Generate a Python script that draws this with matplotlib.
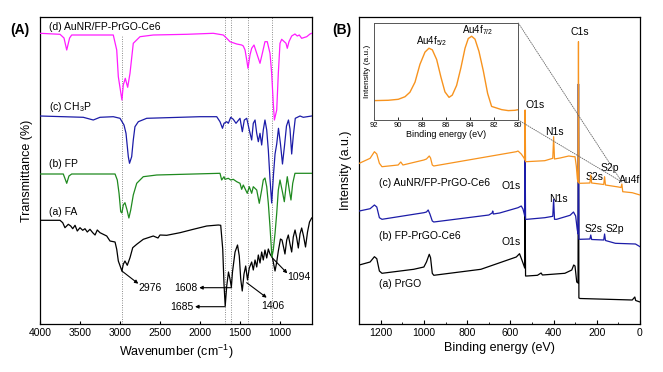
import matplotlib
matplotlib.use("Agg")
import matplotlib.pyplot as plt
from matplotlib.patches import ConnectionPatch
from matplotlib.ticker import MultipleLocator

plt.rcParams['font.family'] = ['Liberation Sans', 'DejaVu Sans']
plt.rcParams['mathtext.default'] = 'regular'

# ---------------- Panel A : FTIR (arbitrary transmittance units) ----------------
fa_wn = [4000, 3750, 3716, 3688, 3646, 3616, 3591, 3562, 3534, 3500, 3466, 3438, 3409, 3375,
         3341, 3312, 3284, 3250, 3166, 3125, 3062, 3041, 3021, 2976, 2959, 2938, 2909, 2875,
         2841, 2791, 2709, 2584, 2525, 2500, 2416, 2250, 2084, 1916, 1771, 1741, 1716, 1700,
         1685, 1666, 1644, 1625, 1608, 1594, 1562, 1531, 1509, 1491, 1472, 1450, 1429, 1406,
         1384, 1354, 1334, 1312, 1291, 1271, 1250, 1229, 1209, 1188, 1166, 1146, 1125, 1094,
         1062, 1041, 1021, 994, 975, 956, 938, 916, 896, 875, 854, 834, 812, 791, 771, 750,
         729, 706, 681, 656, 631, 604]
fa_t = [103.7, 103.7, 101.3, 96.3, 99.7, 98, 95.3, 98.7, 93, 96.3, 93.7, 95.3, 92, 94.7,
        91.3, 89, 94, 91.3, 88, 83, 82, 74.7, 63, 53, 59.7, 63, 58.7, 66.3,
        76.3, 79.7, 84.7, 88, 86, 89, 88.7, 91.3, 94.7, 98, 99, 98.7, 75, 40,
        18, 38, 52, 45, 37, 52, 72, 79, 68, 45, 33, 50, 58, 44,
        56, 62, 54, 64, 57, 69, 61, 72, 64, 74, 66, 75, 70, 66,
        53, 62, 73, 85, 84, 77, 70, 84, 89, 80, 72, 87, 94, 86, 76, 90,
        96, 88, 77, 92, 102, 106]

fp_wn = [4000, 3709, 3666, 3638, 3604, 3062, 3034, 3012, 2991, 2976, 2959, 2938, 2912, 2889,
         2866, 2834, 2791, 2709, 2541, 1750, 1729, 1700, 1688, 1646, 1616, 1584, 1541, 1500,
         1479, 1459, 1429, 1409, 1384, 1354, 1334, 1291, 1259, 1229, 1209, 1188, 1166, 1146,
         1125, 1101, 1084, 1062, 1041, 1021, 1000, 966, 946, 925, 909, 884, 863, 841, 813,
         625, 600]
fp_t = [150, 150, 140.7, 148, 150, 150, 144, 130.7, 112.3, 111, 119, 121.3, 114, 106,
        114, 129, 140.7, 147.3, 149, 150.7, 144, 147.3, 144.7, 145.7, 144, 144.7, 142.3, 140.7,
        134.7, 139, 134, 130.7, 137.3, 130.7, 137.3, 134, 120.7, 134, 144, 146, 137.3, 120.7,
        97.3, 67, 74, 90.7, 110.7, 134, 144, 130.7, 122.3, 137.3, 147.3, 134, 124, 140.7, 150.7,
        150.7, 150.7]

ch3p_wn = [4000, 3459, 3334, 3250, 3084, 3000, 2950, 2925, 2896, 2881, 2854, 2834, 2813, 2771,
           2666, 2000, 1791, 1750, 1719, 1700, 1666, 1646, 1616, 1584, 1550, 1500, 1471, 1446,
           1416, 1384, 1354, 1334, 1312, 1291, 1271, 1250, 1229, 1209, 1188, 1166, 1146, 1125,
           1104, 1081, 1062, 1041, 1019, 994, 969, 944, 919, 894, 875, 854, 834, 809, 750,
           709, 604]
ch3p_t = [208, 206.7, 204, 206.7, 207.3, 205.7, 199, 190.7, 167.3, 160.7, 167.3, 184, 197.3, 202.3,
          205.7, 207.3, 207.3, 202.3, 195.7, 200.7, 202.3, 200.7, 206.7, 204.7, 200.7, 205.7, 192.3, 204,
          205.7, 194, 184, 200.7, 204, 190.7, 182.3, 190.7, 179, 194, 204, 194, 174, 145,
          121, 150, 170, 180, 195.7, 180, 160, 178, 198, 204, 195, 170, 188, 205.7, 208,
          206.7, 208]

auc_wn = [4000, 3750, 3700, 3666, 3630, 3604, 3084, 3041, 3021, 2976, 2959, 2934, 2904, 2875,
          2834, 2750, 2584, 2166, 1834, 1709, 1666, 1625, 1541, 1479, 1459, 1437, 1416, 1400,
          1375, 1354, 1325, 1291, 1250, 1216, 1188, 1159, 1125, 1104, 1084, 1070, 1041, 1021,
          1000, 979, 925, 909, 888, 854, 813, 784, 759, 729, 666, 625, 604]
auc_t = [290.7, 289.7, 286, 274, 286, 289, 289, 274, 247.3, 224, 239, 245.7, 236.7, 250.7,
         280.7, 287.3, 289, 289.7, 290.7, 289, 285.7, 282.3, 280, 279, 278, 274, 264, 255.7,
         269, 275.7, 279, 270.7, 260.7, 272.3, 282.3, 282.3, 270.7, 250.7, 220.7, 204, 214, 250.7,
         280.7, 284.7, 280.7, 275.7, 282.3, 288, 290, 288, 289, 285.7, 287.3, 290, 290.7]

ftir_marks = [2976, 1685, 1608, 1406, 1094]

# ---------------- Panel B : XPS survey (arbitrary intensity units) ----------------
prgo_be = [1300, 1250, 1230, 1219, 1207, 1195, 1048, 1001, 989, 976, 970, 962, 955, 737,
           573, 558, 547, 537, 534, 532, 530, 524, 475, 458, 452, 348, 316, 307, 301, 293,
           287, 285, 283, 278, 36, 24, 20, 0]
prgo_i = [59, 62, 67.3, 65.3, 53, 50.7, 54.7, 57, 62, 69.7, 66.3, 50.7, 48.7, 54.7,
          67, 70.3, 64, 58, 56, 115, 48, 48, 48.7, 51, 49, 50.7, 54, 59, 58, 42,
          41, 240, 26, 25.5, 24, 27, 23.5, 22]

fpce6_be = [1300, 1250, 1230, 1219, 1207, 1195, 1001, 989, 981, 973, 962, 955, 700, 685, 682,
            679, 650, 565, 550, 542, 536, 534, 532, 530, 523, 441, 404, 400, 396, 386, 324,
            308, 298, 291, 287, 285, 283, 278, 232, 228, 224, 168, 164, 160, 114, 21, 0]
fpce6_i = [113, 115.3, 119, 117, 106.3, 104.7, 111.3, 112, 114, 110, 103, 102, 109, 111, 113,
           110, 111, 116.3, 118, 115, 110, 108, 170, 104.7, 104.7, 106.3, 107.7, 124.7, 104.7, 104.7, 108.7,
           112, 108, 95, 90, 240, 85, 84.7, 85, 89, 84.5, 84, 90, 83.5, 80.7, 80, 77.3]

au_be = [1300, 1250, 1230, 1219, 1207, 1195, 1120, 1108, 1098, 1001, 989, 976, 970, 962, 955,
         573, 565, 550, 537, 534, 532, 530, 528, 441, 404, 400, 396, 370, 330, 308, 301, 295,
         290, 287, 285, 283, 278, 232, 228, 224, 168, 164, 160, 100, 88, 84, 80, 36, 0]
au_i = [160.7, 165.7, 172.3, 170, 160.7, 157.3, 159, 162, 159, 164, 165, 168, 166, 159, 158,
        172.3, 173, 170, 166, 164, 214, 162.3, 162.3, 163.3, 165.7, 187.3, 165, 166, 168, 167.3, 167.3, 158,
        145, 142, 282.3, 141, 140.7, 141, 149, 141, 139.5, 147.3, 139, 137, 136.5, 140, 132.3, 131.3, 129]

# Inset: Au4f high resolution
au4f_be = [91.92, 90.81, 89.98, 89.42, 89.01, 88.59, 88.18, 87.76, 87.43, 87.15, 86.79, 86.43,
           86.10, 85.76, 85.49, 85.13, 84.77, 84.43, 84.16, 83.88, 83.60, 83.27, 82.91, 82.55,
           82.22, 81.80, 81.38, 80.83, 80.28, 80.00]
au4f_i = [60, 61, 64, 72, 86, 117, 172, 210, 222, 217, 187, 132, 87, 70, 77, 107, 162, 222,
          252, 259, 250, 212, 152, 82, 42, 37, 32, 29, 30, 32]

# ---------------- Colors ----------------
c_black = '#000000'
c_green = '#1F8A1F'
c_blue = '#1C1CA8'
c_pink = '#FF1CFF'
c_orange = '#F7931E'

fig = plt.figure(figsize=(6.63, 3.72), dpi=100)

W, H = 663.0, 372.0
def rect(x0, y0, x1, y1):
    return [x0 / W, 1 - y1 / H, (x1 - x0) / W, (y1 - y0) / H]

tick_fs = 7.5
lab_fs = 9

# ---------- Panel A ----------
axA = fig.add_axes(rect(40, 17, 312, 324))
axA.set_xlim(4000, 600)
axA.set_ylim(0, 307)
for w in ftir_marks:
    top = 289 / 307 if w == 2976 else 1.0
    axA.axvline(w, ymin=0, ymax=top, color='#666666', ls=(0, (1.0, 1.8)), lw=0.6, zorder=1)
lw = 0.9
axA.plot(fa_wn, fa_t, color=c_black, lw=lw, zorder=3)
axA.plot(fp_wn, fp_t, color=c_green, lw=lw, zorder=4)
axA.plot(ch3p_wn, ch3p_t, color=c_blue, lw=lw, zorder=3)
axA.plot(auc_wn, auc_t, color=c_pink, lw=lw, zorder=3)

txt_fs = 7.5
axA.text(3884, 297.3, '(d) AuNR/FP-PrGO-Ce6', fontsize=txt_fs, va='center', ha='left')
axA.text(3884, 216.7, '(c) CH$_3$P', fontsize=txt_fs, va='center', ha='left')
axA.text(3884, 160, '(b) FP', fontsize=txt_fs, va='center', ha='left')
axA.text(3884, 112, '(a) FA', fontsize=txt_fs, va='center', ha='left')

ann_kw = dict(arrowstyle='-|>', color='black', lw=0.8, mutation_scale=5, shrinkA=0, shrinkB=0)
axA.annotate('', xy=(2771, 40.3), xytext=(2976, 53), arrowprops=ann_kw)
axA.text(2629, 36.3, '2976', fontsize=txt_fs, ha='center', va='center')
axA.annotate('', xy=(2010, 36.3), xytext=(1604, 36.3), arrowprops=ann_kw)
axA.text(2030, 36.3, '1608', fontsize=txt_fs, ha='right', va='center')
axA.annotate('', xy=(2062, 17.3), xytext=(1685, 17.3), arrowprops=ann_kw)
axA.text(2082, 17.3, '1685', fontsize=txt_fs, ha='right', va='center')
axA.annotate('', xy=(1166, 26.3), xytext=(1416, 41.3), arrowprops=ann_kw)
axA.text(1094, 17.7, '1406', fontsize=txt_fs, ha='center', va='center')
axA.annotate('', xy=(909, 50.7), xytext=(1091, 65.7), arrowprops=ann_kw)
axA.text(765, 46.7, '1094', fontsize=txt_fs, ha='center', va='center')

axA.set_yticks([])
axA.set_xticks([4000, 3500, 3000, 2500, 2000, 1500, 1000])
axA.tick_params(axis='x', direction='in', labelsize=tick_fs, length=2.5, width=0.8, pad=3)
axA.set_xlabel('Wavenumber (cm$^{-1}$)', fontsize=lab_fs, labelpad=3)
axA.set_ylabel('Transmittance (%)', fontsize=lab_fs, labelpad=5)
for s in axA.spines.values():
    s.set_linewidth(0.9)
fig.text(20 / W, 1 - 30 / H, '(A)', fontsize=10, fontweight='bold', ha='center', va='center')

# ---------- Panel B ----------
axB = fig.add_axes(rect(359.3, 17, 640, 324))
axB.set_xlim(1300, 0)
axB.set_ylim(0, 307)
axB.plot(prgo_be, prgo_i, color=c_black, lw=lw, zorder=3)
axB.plot(fpce6_be, fpce6_i, color=c_blue, lw=lw, zorder=4)
axB.plot(au_be, au_i, color=c_orange, lw=lw, zorder=5)

axB.text(277.6, 291.7, 'C1s', fontsize=txt_fs, ha='center', va='center')
axB.text(484.4, 219, 'O1s', fontsize=txt_fs, ha='center', va='center')
axB.text(397, 192.3, 'N1s', fontsize=txt_fs, ha='center', va='center')
axB.text(210.4, 147.3, 'S2s', fontsize=txt_fs, ha='center', va='center')
axB.text(137.6, 155.7, 'S2p', fontsize=txt_fs, ha='center', va='center')
axB.text(48.9, 144, 'Au4f', fontsize=txt_fs, ha='center', va='center')
axB.text(1206.6, 141.3, '(c) AuNR/FP-PrGO-Ce6', fontsize=txt_fs, ha='left', va='center')
axB.text(596.5, 138, 'O1s', fontsize=txt_fs, ha='center', va='center')
axB.text(378.5, 124.7, 'N1s', fontsize=txt_fs, ha='center', va='center')
axB.text(215, 94.7, 'S2s', fontsize=txt_fs, ha='center', va='center')
axB.text(117, 95.3, 'S2p', fontsize=txt_fs, ha='center', va='center')
axB.text(1206.6, 88, '(b) FP-PrGO-Ce6', fontsize=txt_fs, ha='left', va='center')
axB.text(596.5, 82, 'O1s', fontsize=txt_fs, ha='center', va='center')
axB.text(1206.6, 39.7, '(a) PrGO', fontsize=txt_fs, ha='left', va='center')

axB.set_yticks([])
axB.set_xticks([1200, 1000, 800, 600, 400, 200, 0])
axB.xaxis.set_minor_locator(MultipleLocator(100))
axB.tick_params(axis='x', which='major', direction='in', labelsize=tick_fs, length=3, width=0.8, pad=3)
axB.tick_params(axis='x', which='minor', direction='in', length=1.8, width=0.6)
axB.set_xlabel('Binding energy (eV)', fontsize=lab_fs, labelpad=3)
axB.set_ylabel('Intensity (a.u.)', fontsize=lab_fs, labelpad=5)
for s in axB.spines.values():
    s.set_linewidth(0.9)
fig.text(342 / W, 1 - 30 / H, '(B)', fontsize=10, fontweight='bold', ha='center', va='center')

# ---------- Inset ----------
axI = fig.add_axes(rect(374, 23, 518.3, 120))
axI.plot(au4f_be, au4f_i, color=c_orange, lw=1.0)
axI.set_xlim(92, 80)
axI.set_ylim(0, 300)
axI.set_yticks([])
axI.set_xticks([92, 90, 88, 86, 84, 82, 80])
axI.tick_params(axis='x', direction='in', labelsize=5.5, length=2, width=0.6, pad=1.5)
axI.set_xlabel('Binding energy (eV)', fontsize=6.5, labelpad=1)
axI.set_ylabel('Intensity (a.u.)', fontsize=6, labelpad=2)
for s in axI.spines.values():
    s.set_linewidth(0.7)
    s.set_color('#555555')
axI.text(87.2, 245, 'Au4f$_{5/2}$', fontsize=7, ha='center', va='center')
axI.text(83.4, 277, 'Au4f$_{7/2}$', fontsize=7, ha='center', va='center')

for ya in (1, 0):
    con = ConnectionPatch(xyA=(1, ya), coordsA=axI.transAxes, xyB=(84, 142), coordsB=axB.transData,
                          color='#666666', lw=0.6, ls=(0, (1.2, 1.5)))
    fig.add_artist(con)

fig.savefig('out.png', dpi=100)
